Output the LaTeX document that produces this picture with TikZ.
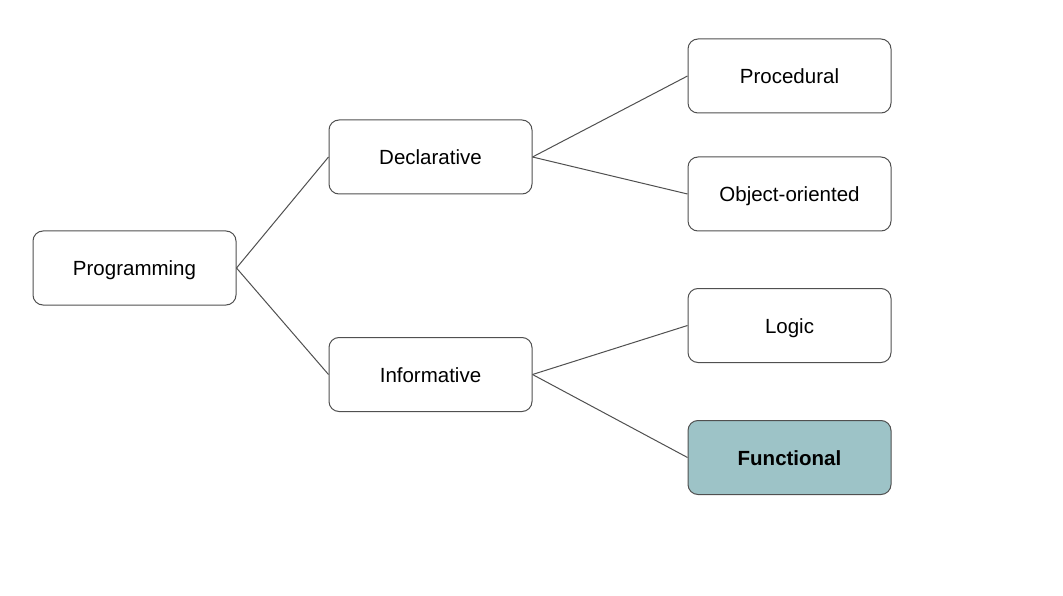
\documentclass[tikz,border=0pt]{standalone}
\usepackage{fontspec}
\setmainfont{Liberation Sans}
\definecolor{edgegray}{HTML}{505050}
\definecolor{teal}{HTML}{9DC3C7}
\begin{document}
\begin{tikzpicture}[x=1pt,y=-1pt,
  box/.style={draw=edgegray,line width=1pt,rounded corners=10pt,minimum width=203pt,minimum height=74pt,inner sep=0pt,text height=18pt,text depth=2pt,font=\fontsize{20.5}{24}\selectfont,fill=white},
  hl/.style={box,fill=teal,font=\fontsize{20.5}{24}\selectfont\bfseries},
  link/.style={draw=edgegray,line width=1pt}]
\useasboundingbox[fill=white] (0,0) rectangle (1063,596);
\node[box] (prog) at (134.5,268) {Programming};
\node[box] (decl) at (430.5,157) {Declarative};
\node[box] (info) at (430.5,374.5) {Informative};
\node[box] (proc) at (789.5,76) {Procedural};
\node[box] (oo) at (789.5,194) {Object-oriented};
\node[box] (logic) at (789.5,325.5) {Logic};
\node[hl] (func) at (789.5,457.5) {Functional};
\draw[link] (prog.east) -- (decl.west);
\draw[link] (prog.east) -- (info.west);
\draw[link] (decl.east) -- (proc.west);
\draw[link] (decl.east) -- (oo.west);
\draw[link] (info.east) -- (logic.west);
\draw[link] (info.east) -- (func.west);
\end{tikzpicture}
\end{document}
